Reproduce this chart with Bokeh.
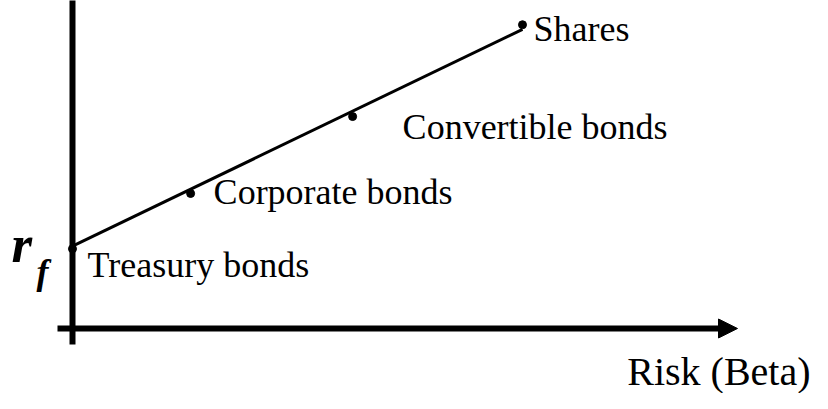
from bokeh.plotting import figure
from bokeh.models import Range1d, Arrow, NormalHead, ColumnDataSource
from bokeh.core.properties import value
from bokeh.embed import file_html
from bokeh.resources import INLINE

# ---- data ----
securities = ["Treasury bonds", "Corporate bonds", "Convertible bonds", "Shares"]
beta = [0.0, 0.525, 1.245, 2.0]
expected_return = [2.95, 5.0, 7.85, 11.25]
sml_beta = [0.0, 2.0]
sml_return = [3.05, 11.08]
x_axis_label = "Risk (Beta)"
rf_symbol = "r"
rf_subscript = "f"

# ---- layout / style ----
W, H = 812, 393
FONT = "Liberation Serif"
label_dx = [15, 23, 50, 11]
label_dy = [16, -1, 10, 4]

p = figure(width=W, height=H, output_backend="svg", toolbar_location=None,
           x_range=Range1d(-0.32, 3.28889), y_range=Range1d(-2.40741, 12.14815),
           min_border=0, outline_line_color=None)
p.axis.visible = False
p.grid.visible = False
p.background_fill_color = "white"
p.border_fill_color = "white"

# axes drawn as thick lines with arrow on x
x_end = 2.9556
p.add_layout(Arrow(x_start=-0.0667, y_start=0, x_end=x_end, y_end=0, line_width=6,
                   line_color="black",
                   end=NormalHead(size=19, fill_color="black", line_color="black", line_width=1)))
p.segment(x0=[0], y0=[-0.593], x1=[0], y1=[12.5], line_width=6, line_color="black")

# security market line
p.line(sml_beta, sml_return, line_width=3, line_color="black")

src = ColumnDataSource(dict(x=beta, y=expected_return, name=securities,
                            dx=label_dx, dy=label_dy))
p.scatter("x", "y", source=src, size=8, color="black")
p.text("x", "y", text="name", source=src, x_offset="dx", y_offset="dy",
       text_font=value(FONT), text_font_size="36px", text_color="black",
       text_baseline="alphabetic", text_align="left")

# x-axis title
p.text(x=[x_end], y=[0], text=[x_axis_label], x_offset=73, y_offset=43,
       text_font=value(FONT), text_font_size="40px", text_color="black",
       text_baseline="alphabetic", text_align="right")

# r_f
p.text(x=[sml_beta[0]], y=[sml_return[0]], text=[rf_symbol], x_offset=-61, y_offset=-2,
       text_font=value(FONT), text_font_size="53px", text_font_style="bold italic",
       text_color="black", text_baseline="alphabetic", text_align="left")
p.text(x=[sml_beta[0]], y=[sml_return[0]], text=[rf_subscript], x_offset=-36, y_offset=26,
       text_font=value(FONT), text_font_size="36px", text_font_style="bold italic",
       text_color="black", text_baseline="alphabetic", text_align="left")

open("out.html", "w").write(file_html(p, INLINE))
